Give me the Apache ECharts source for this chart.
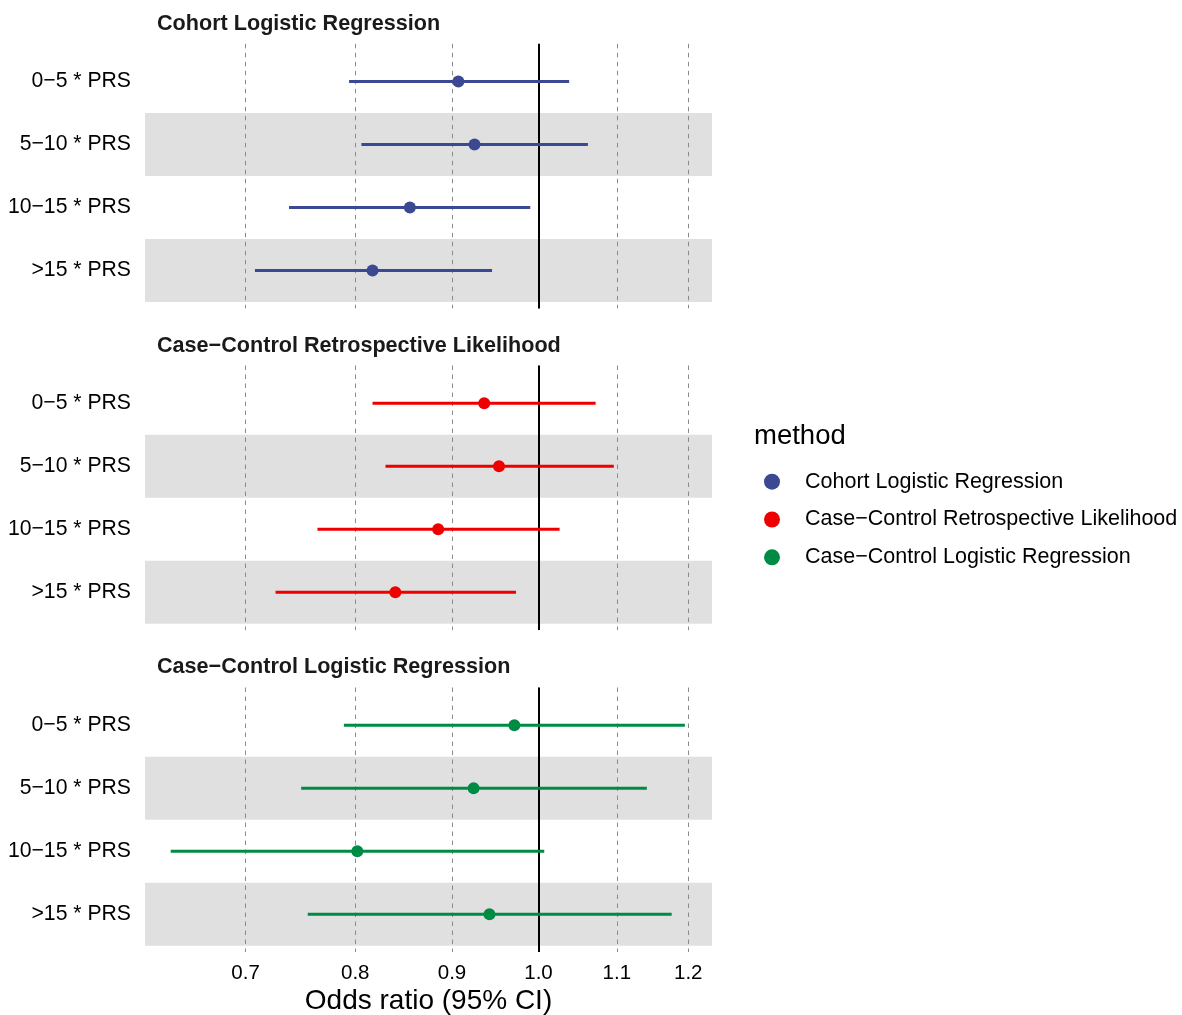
<!DOCTYPE html>
<html><head><meta charset="utf-8">
<script src="https://cdn.jsdelivr.net/npm/echarts@6/dist/echarts.min.js"></script>
<style>html,body{margin:0;padding:0;background:#fff}#c{width:1182px;height:1015px}</style>
</head><body><div id="c"></div>
<script>
// ---- data ----
const methods = ['Cohort Logistic Regression', 'Case\u2212Control Retrospective Likelihood', 'Case\u2212Control Logistic Regression'];
const categories = ['0\u22125 * PRS', '5\u221210 * PRS', '10\u221215 * PRS', '>15 * PRS'];
const colors = ['#3B4992', '#EE0000', '#008B45'];
const xTicks = [0.7, 0.8, 0.9, 1.0, 1.1, 1.2];
const refValue = 1.0;
const xTitle = 'Odds ratio (95% CI)';
const legendTitle = 'method';

const cohortOR = [0.907, 0.925, 0.855, 0.817];
const cohortLo = [0.794, 0.806, 0.738, 0.708];
const cohortHi = [1.038, 1.062, 0.990, 0.945];

const ccRetroOR = [0.936, 0.953, 0.885, 0.840];
const ccRetroLo = [0.817, 0.830, 0.764, 0.726];
const ccRetroHi = [1.072, 1.096, 1.026, 0.973];

const ccLogOR = [0.971, 0.924, 0.802, 0.942];
const ccLogLo = [0.789, 0.749, 0.639, 0.755];
const ccLogHi = [1.195, 1.141, 1.007, 1.176];

const ORs = [cohortOR, ccRetroOR, ccLogOR];
const LOs = [cohortLo, ccRetroLo, ccLogLo];
const HIs = [cohortHi, ccRetroHi, ccLogHi];

// ---- layout ----
const FONT = "'Liberation Sans', Arial, sans-serif";
const xMin = 0.6193, xMax = 1.2352;
const gridLeft = 145, gridWidth = 567, gridHeight = 264.6;
const gridTops = [43.8, 365.5, 687.5];
const titleYs = [22, 344, 665];

const chart = echarts.init(document.getElementById('c'), null, {renderer: 'canvas'});

const grids = [], xAxes = [], yAxes = [], series = [], graphics = [];
methods.forEach((m, i) => {
  grids.push({left: gridLeft, width: gridWidth, top: gridTops[i], height: gridHeight,
    containLabel: false, outerBoundsMode: 'none'});
  const last = i === methods.length - 1;
  xAxes.push({
    type: 'log', logBase: 10, gridIndex: i, min: xMin, max: xMax,
    axisLine: {show: false}, axisTick: {show: false}, splitLine: {show: false},
    axisLabel: {show: last, customValues: xTicks, formatter: v => Number(v).toFixed(1),
      fontSize: 20.5, color: '#000', margin: 11, fontFamily: FONT},
    name: last ? xTitle : '', nameLocation: 'middle', nameGap: 35,
    nameTextStyle: {fontSize: 28, color: '#000', fontFamily: FONT}
  });
  yAxes.push({
    type: 'value', gridIndex: i, inverse: true, min: 0.4, max: 4.6,
    axisLine: {show: false}, axisTick: {show: false}, splitLine: {show: false},
    axisLabel: {customValues: categories.map((c, j) => j + 1),
      formatter: v => categories[Math.round(v) - 1] || '',
      fontSize: 21.2, color: '#000', margin: 14, fontFamily: FONT}
  });
  const bands = categories.map((c, j) => j).filter(j => j % 2 === 1)
    .map(j => [{yAxis: j + 0.5}, {yAxis: j + 1.5}]);
  const gridLines = xTicks.map(v => ({xAxis: v, lineStyle: {color: '#8a8a8a', width: 1, type: [4.5, 4.5]}}));
  gridLines.push({xAxis: refValue, lineStyle: {color: '#000', width: 2, type: 'solid'}});
  series.push({
    type: 'scatter', name: m, xAxisIndex: i, yAxisIndex: i, z: 3,
    symbol: 'circle', symbolSize: 12, itemStyle: {color: colors[i], opacity: 1},
    data: categories.map((c, j) => [ORs[i][j], j + 1])
  });
  series.push({
    type: 'custom', name: m, xAxisIndex: i, yAxisIndex: i, z: 2,
    itemStyle: {color: colors[i]},
    encode: {x: [0, 1], y: 2},
    data: categories.map((c, j) => [LOs[i][j], HIs[i][j], j + 1]),
    renderItem: (params, api) => {
      const y = api.value(2);
      const p1 = api.coord([api.value(0), y]);
      const p2 = api.coord([api.value(1), y]);
      return {type: 'line', shape: {x1: p1[0], y1: p1[1], x2: p2[0], y2: p2[1]},
        style: {stroke: colors[i], lineWidth: 3, lineCap: 'butt'}};
    },
    markArea: {silent: true, z: 0, itemStyle: {color: '#E0E0E0'}, data: bands},
    markLine: {silent: true, z: 1, symbol: 'none', label: {show: false},
      emphasis: {disabled: true}, animation: false, data: gridLines}
  });
  graphics.push({type: 'text', left: 157, top: titleYs[i] - 9,
    style: {text: m, fontSize: 21.6, fontWeight: 'bold', fill: '#1a1a1a', fontFamily: FONT}});
});
graphics.push({type: 'text', left: 754, top: 434 - 12,
  style: {text: legendTitle, fontSize: 27.5, fill: '#000', fontFamily: FONT}});

chart.setOption({
  animation: false,
  backgroundColor: '#fff',
  grid: grids, xAxis: xAxes, yAxis: yAxes, series: series,
  legend: {
    data: methods.map((m, i) => ({name: m, itemStyle: {color: colors[i]}})),
    orient: 'vertical', left: 764, top: 469.7, padding: 0,
    icon: 'circle', itemWidth: 56, itemHeight: 16, itemGap: 13.8,
    textStyle: {fontSize: 21.5, color: '#000', lineHeight: 24, fontFamily: FONT},
    selectedMode: false
  },
  graphic: graphics
});
</script>
</body></html>
